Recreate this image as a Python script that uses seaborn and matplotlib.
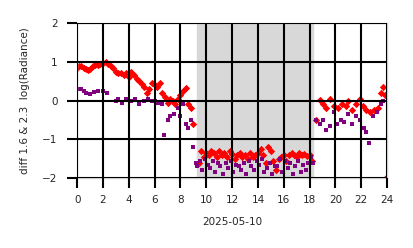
import matplotlib
matplotlib.use("Agg")
import matplotlib.pyplot as plt
import seaborn as sns
import pandas as pd

red_x = [0.0, 0.15, 0.3, 0.5, 0.7, 0.85, 1.0, 1.2, 1.4, 1.6, 1.8, 2.0, 2.2, 2.4, 2.6, 2.8, 3.0,
         3.2, 3.4, 3.6, 3.8, 4.0, 4.2, 4.4, 4.6, 4.8, 5.0, 5.2, 5.4, 5.6, 5.8, 6.0, 6.2, 6.4,
         6.6, 6.8, 7.0, 7.2, 7.4, 7.6, 7.8, 8.0, 8.2, 8.4, 8.6, 8.8, 9.0,
         9.4, 9.6, 9.8, 10.0, 10.2, 10.4, 10.6, 10.8, 11.0, 11.2, 11.4, 11.6, 11.8, 12.0, 12.2,
         12.4, 12.6, 12.8, 13.0, 13.2, 13.4, 13.6, 13.8, 14.0, 14.2, 14.4, 14.6, 14.8, 15.0,
         15.2, 15.4, 15.6, 15.8, 16.0, 16.2, 16.4, 16.6, 16.8, 17.0, 17.2, 17.4, 17.6, 17.8,
         18.0, 18.2, 18.5, 18.8, 19.0, 19.3, 19.6, 19.9, 20.2, 20.5, 20.8, 21.0, 21.3, 21.6,
         21.9, 22.1, 22.4, 22.7, 23.0, 23.3, 23.5, 23.7, 23.85, 23.95]
red_y = [0.85, 0.9, 0.88, 0.85, 0.82, 0.8, 0.82, 0.88, 0.92, 0.93, 0.95, 0.97, 1.0, 0.95, 0.9,
         0.85, 0.75, 0.72, 0.7, 0.65, 0.7, 0.62, 0.75, 0.65, 0.55, 0.5, 0.42, 0.35, 0.2, 0.3,
         0.45, 0.4, 0.35, 0.45, 0.2, 0.1, -0.05, 0.05, 0.0, -0.1, 0.05, 0.15, 0.25, 0.32,
         -0.1, -0.2, -0.6,
         -1.6, -1.3, -1.45, -1.35, -1.4, -1.3, -1.35, -1.45, -1.3, -1.4, -1.35, -1.45, -1.3,
         -1.38, -1.5, -1.4, -1.35, -1.45, -1.4, -1.5, -1.35, -1.45, -1.4, -1.35, -1.25, -1.4,
         -1.6, -1.2, -1.3, -1.55, -1.8, -1.5, -1.45, -1.4, -1.55, -1.4, -1.35, -1.4, -1.45,
         -1.35, -1.4, -1.38, -1.42, -1.4, -1.55, -0.5, 0.02, -0.1, -0.2, 0.05, -0.15, -0.2,
         -0.1, -0.15, 0.0, -0.25, -0.1, 0.05, -0.15, -0.25, -0.3, -0.25, -0.2, 0.2, 0.35,
         0.15, -2.0]

purple_x = [0.1, 0.3, 0.5, 0.7, 1.0, 1.3, 1.6, 2.0, 2.3, 3.0, 3.2, 3.5, 3.8, 4.2, 4.5, 4.8,
            5.2, 5.5, 5.8, 6.0, 6.3, 6.6, 6.75, 7.0, 7.2, 7.5, 7.8, 8.0, 8.2, 8.4, 8.6, 8.8,
            9.0, 9.2,
            9.3, 9.5, 9.7, 9.9, 10.1, 10.3, 10.5, 10.7, 10.9, 11.1, 11.3, 11.5, 11.7, 11.9,
            12.1, 12.3, 12.5, 12.7, 12.9, 13.1, 13.3, 13.5, 13.7, 13.9, 14.1, 14.3, 14.5,
            14.7, 14.9, 15.1, 15.3, 15.5, 15.7, 15.9, 16.1, 16.3, 16.5, 16.7, 16.9, 17.1,
            17.3, 17.5, 17.7, 17.9, 18.1, 18.3, 18.5, 18.8, 19.0, 19.3, 19.6, 19.9, 20.1,
            20.4, 20.7, 21.0, 21.3, 21.6, 21.9, 22.2, 22.4, 22.6, 22.9, 23.2, 23.5, 23.7]
purple_y = [0.3, 0.3, 0.25, 0.2, 0.18, 0.22, 0.25, 0.25, 0.2, 0.0, 0.05, -0.05, 0.05, 0.0,
            0.05, -0.1, 0.0, 0.05, 0.0, 0.0, -0.05, -0.1, -0.9, -0.5, -0.4, -0.35, -0.2,
            -0.4, -0.1, -0.6, -0.7, -0.5, -1.2, -1.6,
            -1.7, -1.55, -1.8, -1.5, -1.65, -1.75, -1.55, -1.85, -1.6, -1.7, -1.9, -1.6,
            -1.75, -1.55, -1.85, -1.65, -1.7, -1.8, -1.6, -1.9, -1.55, -1.7, -1.8, -1.55,
            -1.65, -1.5, -1.85, -1.75, -1.6, -1.9, -1.7, -1.7, -1.5, -1.85, -1.55, -1.75,
            -1.6, -1.9, -1.7, -1.55, -1.85, -1.65, -1.8, -1.6, -1.45, -1.6, -0.5, -0.6,
            -0.5, -0.75, -0.65, -0.3, -0.6, -0.5, -0.55, -0.35, -0.6, -0.4, -0.5, -0.7,
            -0.8, -1.1, -0.4, -0.3, -0.1, 0.0]

x_ticks = list(range(0, 25, 2))
y_ticks = [-2, -1, 0, 1, 2]
night_start, night_end = 9.3, 18.25

sns.set_style("whitegrid")
plt.rcParams['font.family'] = ['DejaVu Sans']

fig = plt.figure(figsize=(4.14, 2.48), dpi=100)
ax = fig.add_axes([0.186, 0.282, 0.749, 0.625])

ax.axvspan(night_start, night_end, color="#d8d8d8", zorder=0)

red_df = pd.DataFrame({"x": red_x, "y": red_y})
pur_df = pd.DataFrame({"x": purple_x, "y": purple_y})
sns.scatterplot(data=red_df, x="x", y="y", ax=ax, color="red", marker="D", s=14,
                linewidth=0, zorder=2)
sns.scatterplot(data=pur_df, x="x", y="y", ax=ax, color="purple", marker="s", s=10,
                linewidth=0, zorder=2)

ax.set_xlim(-0.01, 24.0)
ax.set_ylim(-2, 2)
ax.set_xticks(x_ticks)
ax.set_yticks(y_ticks)
ax.set_axisbelow(False)
ax.grid(True, color="black", linewidth=1.5)
for sp in ax.spines.values():
    sp.set_color("#cccccc")
    sp.set_linewidth(1.0)
ax.set_xlabel("2025-05-10", fontsize=7.5, labelpad=8)
ax.set_ylabel("diff 1.6 & 2.3  log(Radiance)", fontsize=7.5, labelpad=9)
ax.tick_params(axis="x", bottom=True, length=7, width=1.5, color="black",
               labelsize=7.5, pad=5.5)
ax.tick_params(axis="y", left=True, length=7, width=1.5, color="black",
               labelsize=7.5, pad=7)
for t in ax.xaxis.get_major_ticks() + ax.yaxis.get_major_ticks():
    t.tick1line.set_visible(True)
    t.tick1line.set_markersize(7)
    t.tick1line.set_markeredgewidth(1.5)
    t.tick1line.set_markeredgecolor("black")
    t.tick1line.set_zorder(5)

fig.savefig("out.png", dpi=100)
